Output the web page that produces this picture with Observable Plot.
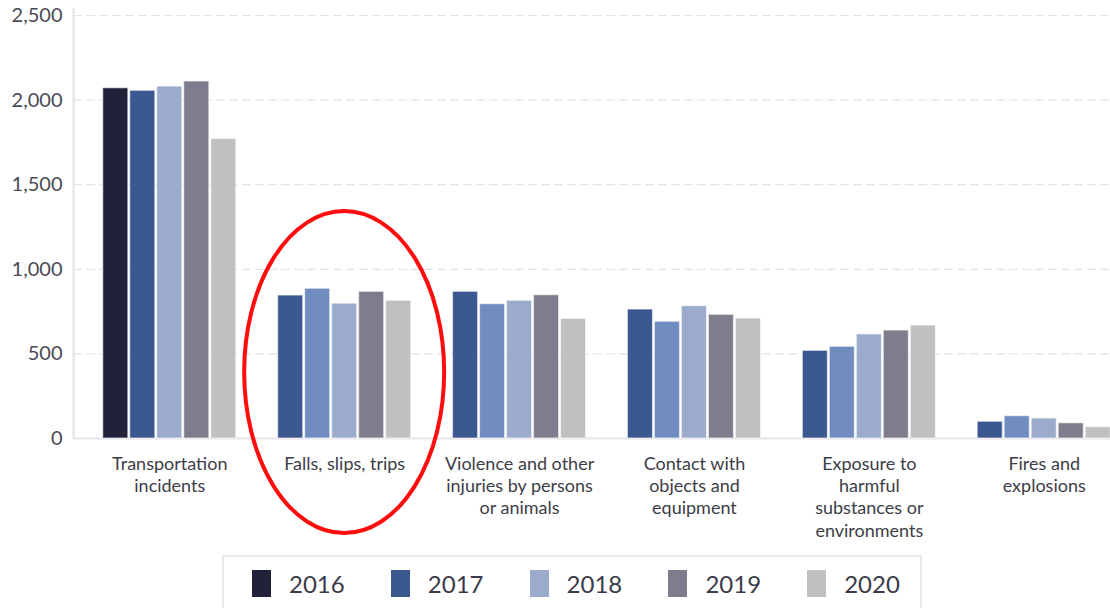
<!DOCTYPE html>
<html>
<head>
<meta charset="utf-8">
<script src="https://cdn.jsdelivr.net/npm/d3@7"></script>
<script src="https://cdn.jsdelivr.net/npm/@observablehq/plot@0.6"></script>
<style>
  html, body { margin: 0; padding: 0; background: #fff; overflow: hidden; }
  #wrap { position: relative; width: 1110px; height: 608px; overflow: hidden; font-family: Lato, sans-serif; }
  #wrap svg { position: absolute; left: 0; top: 0; }
  #legend { position: absolute; left: 222px; top: 555px; width: 700px; height: 80px;
            border: 2px solid #e9e9ec; box-sizing: border-box; display: flex; padding: 13px 0 0 28px; }
  .item { width: 138.8px; display: flex; align-items: flex-start; flex: none; }
  .sw { width: 19px; height: 27px; margin-right: 18px; flex: none; }
  .lab { font-size: 24px; line-height: 27px; color: #3a3a48; }
</style>
</head>
<body>
<div id="wrap"></div>
<script>
// ---- data ----
const categories = [
  "Transportation incidents",
  "Falls, slips, trips",
  "Violence and other injuries by persons or animals",
  "Contact with objects and equipment",
  "Exposure to harmful substances or environments",
  "Fires and explosions"
];
const categoryLabels = [
  "Transportation\nincidents",
  "Falls, slips, trips",
  "Violence and other\ninjuries by persons\nor animals",
  "Contact with\nobjects and\nequipment",
  "Exposure to\nharmful\nsubstances or\nenvironments",
  "Fires and\nexplosions"
];
const years = ["2016", "2017", "2018", "2019", "2020"];
const v2016 = [2070, 845, 867, 762, 518, 99];
const v2017 = [2055, 885, 794, 690, 542, 132];
const v2018 = [2080, 797, 814, 782, 615, 118];
const v2019 = [2110, 867, 847, 731, 638, 90];
const v2020 = [1770, 814, 707, 709, 668, 67];
const yTicks = [0, 500, 1000, 1500, 2000, 2500];
const highlighted = "Falls, slips, trips";

// colours: legend palette (used in first group) and palette used by the other groups
const legendColors = ["#22213a", "#3b5891", "#9aabcb", "#7f7d8d", "#c0c0c0"];
const groupColors  = ["#3b5891", "#718cbe", "#9aabcb", "#7f7d8d", "#c0c0c0"];

const series = [v2016, v2017, v2018, v2019, v2020];
const rows = [];
categories.forEach((c, ci) => {
  years.forEach((y, yi) => {
    rows.push({category: c, year: y, value: series[yi][ci],
               color: (ci === 0 ? legendColors : groupColors)[yi]});
  });
});

const W = 1140, H = 550, ML = 73, MT = 15, MB = 112;
const wrap = document.getElementById("wrap");

// background: y axis, grid
const bg = Plot.plot({
  width: W, height: H,
  marginLeft: ML, marginRight: 0, marginTop: MT, marginBottom: MB,
  style: {background: "white", maxWidth: "none", fontFamily: "Lato, sans-serif", fontSize: "20px", color: "#4a4a55"},
  x: {domain: [0, 1], axis: null},
  y: {domain: [0, 2500], ticks: yTicks, tickFormat: d3.format(","), tickSize: 0, tickPadding: 11, label: null},
  marks: [
    Plot.ruleY(yTicks.filter(d => d > 0), {stroke: "#e4e4e8", strokeWidth: 1.2, strokeDasharray: "9,4"}),
    Plot.ruleX([0], {y1: 0, y2: 2540, stroke: "#e4e4ea", strokeWidth: 2}),
    Plot.ruleY([0], {stroke: "#e6e6ea", strokeWidth: 2})
  ]
});
wrap.appendChild(bg);

// foreground: bars and category labels
const fg = Plot.plot({
  width: W, height: H,
  marginLeft: ML, marginRight: 0, marginTop: MT, marginBottom: MB,
  style: {background: "transparent", maxWidth: "none", fontFamily: "Lato, sans-serif"},
  fx: {domain: categories, paddingInner: 0.239, paddingOuter: 0.17, round: false, axis: null, label: null},
  x: {domain: years, paddingInner: 0.07, paddingOuter: 0, round: false, axis: null},
  y: {domain: [0, 2500], axis: null},
  color: {type: "identity"},
  marks: [
    Plot.barY(rows, {fx: "category", x: "year", y: "value", fill: "color",
                     stroke: "#ffffff", strokeOpacity: 0.55, strokeWidth: 1.2}),
    Plot.text(categories, {fx: d => d, text: d => categoryLabels[categories.indexOf(d)],
                           frameAnchor: "bottom", lineAnchor: "top", dy: 16,
                           fontSize: 18, lineHeight: 1.23, fill: "#3d3d47"})
  ]
});
wrap.appendChild(fg);

// red annotation ellipse around highlighted group
const fxs = fg.scale("fx"), ys = fg.scale("y");
d3.select(fg).append("ellipse")
  .attr("cx", fxs.apply(highlighted) + fxs.bandwidth / 2)
  .attr("cy", ys.apply(390))
  .attr("rx", 100)
  .attr("ry", 161)
  .attr("fill", "none")
  .attr("stroke", "#ff0d0d")
  .attr("stroke-width", 4);

// legend
const legend = document.createElement("div");
legend.id = "legend";
years.forEach((y, i) => {
  const it = document.createElement("div");
  it.className = "item";
  const sw = document.createElement("div");
  sw.className = "sw";
  sw.style.background = legendColors[i];
  const lab = document.createElement("div");
  lab.className = "lab";
  lab.textContent = y;
  it.appendChild(sw); it.appendChild(lab);
  legend.appendChild(it);
});
wrap.appendChild(legend);
</script>
</body>
</html>
